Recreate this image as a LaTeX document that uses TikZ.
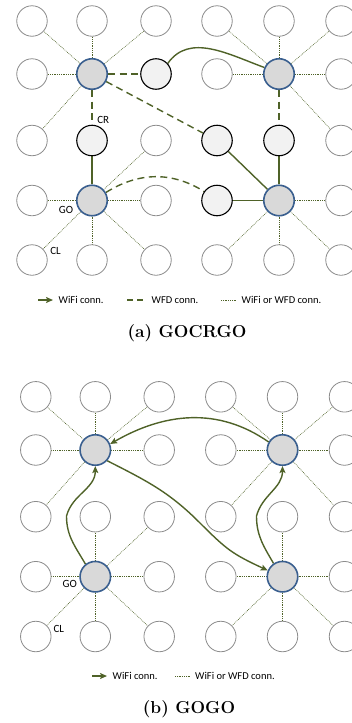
\documentclass[tikz,border=0pt]{standalone}
\usepackage{fontspec}
\newfontfamily\carl{Carlito}
\usetikzlibrary{arrows.meta}
\definecolor{oliv}{HTML}{4F6228}
\definecolor{goblue}{HTML}{3A5F8F}
\definecolor{gofill}{HTML}{D9D9D9}
\definecolor{crfill}{HTML}{F2F2F2}
\definecolor{plaingray}{HTML}{8C8C8C}
\pgfdeclarelayer{bg}
\pgfsetlayers{bg,main}
\tikzset{
  plain/.style={circle,draw=plaingray,fill=white,line width=0.8pt,minimum size=30.5pt,inner sep=0pt},
  gonode/.style={draw=goblue,fill=gofill,line width=1.6pt},
  crnode/.style={draw=black,fill=crfill,line width=1.1pt},
  dotline/.style={draw=oliv,line width=0.6pt,dash pattern=on 0.8pt off 1pt},
  wifi/.style={draw=oliv,line width=1.4pt},
  wfd/.style={draw=oliv,line width=1.4pt,dash pattern=on 7pt off 4.5pt},
  wifiarrow/.style={wifi,-{Stealth[length=7pt,width=6pt,inset=1.5pt]}},
  lbl/.style={font=\carl\fontsize{11}{13}\selectfont,inner sep=0pt},
  legtext/.style={font=\carl\fontsize{10.5}{12}\selectfont,inner sep=0pt,anchor=west},
  captext/.style={font=\rmfamily\bfseries\fontsize{17.3}{20}\selectfont,inner sep=0pt},
  sty a-2-2/.style=gonode, sty a-5-2/.style=gonode, sty a-2-4/.style=gonode, sty a-5-4/.style=gonode,
  sty a-3-2/.style=crnode, sty a-2-3/.style=crnode, sty a-4-3/.style=crnode, sty a-5-3/.style=crnode, sty a-4-4/.style=crnode,
  sty b-2-2/.style=gonode, sty b-5-2/.style=gonode, sty b-2-4/.style=gonode, sty b-5-4/.style=gonode,
}
\begin{document}
\begin{tikzpicture}[x=1pt,y=-1pt]
\useasboundingbox (0,0) rectangle (352,723);
% ---------------- panel (a) nodes
\foreach \c/\x in {1/32,2/92,3/156,4/217,5/279,6/341}{
  \foreach \r/\y in {1/21,2/74,3/140.5,4/200.5,5/260}{
    \node[plain,sty a-\c-\r/.try] (a-\c-\r) at (\x,\y) {};
  }}
% ---------------- panel (b) nodes
\foreach \c/\x in {1/35.8,2/95.3,3/159.2,4/220.8,5/282.5,6/344.5}{
  \foreach \r/\y in {1/396.8,2/450,3/516.7,4/576.7,5/636.5}{
    \node[plain,sty b-\c-\r/.try] (b-\c-\r) at (\x,\y) {};
  }}
\begin{pgfonlayer}{bg}
% dotted links (a)
\foreach \g/\n in {2-2/1-1,2-2/2-1,2-2/3-1,2-2/1-2,2-2/1-3,
                   5-2/4-1,5-2/5-1,5-2/6-1,5-2/4-2,5-2/6-2,5-2/6-3,
                   2-4/3-3,2-4/1-4,2-4/3-4,2-4/1-5,2-4/2-5,2-4/3-5,
                   5-4/6-4,5-4/4-5,5-4/5-5,5-4/6-5}
  \draw[dotline] (a-\g) -- (a-\n);
% dotted links (b)
\foreach \g/\n in {2-2/1-1,2-2/2-1,2-2/3-1,2-2/1-2,2-2/3-2,2-2/1-3,
                   5-2/4-1,5-2/5-1,5-2/6-1,5-2/4-2,5-2/6-2,5-2/4-3,5-2/6-3,
                   2-4/2-3,2-4/3-3,2-4/1-4,2-4/3-4,2-4/1-5,2-4/2-5,2-4/3-5,
                   5-4/5-3,5-4/4-4,5-4/6-4,5-4/4-5,5-4/5-5,5-4/6-5}
  \draw[dotline] (b-\g) -- (b-\n);
% WFD links (a)
\draw[wfd] (a-2-2) -- (a-3-2);
\draw[wfd] (a-2-2) -- (a-2-3);
\draw[wfd] (a-2-2) -- (a-4-3);
\draw[wfd] (a-5-2) -- (a-5-3);
\draw[wfd] (a-2-4.30) to[out=32,in=148] (a-4-4.145);
% WiFi links (a)
\draw[wifi] (a-3-2.42) to[out=55,in=160] (a-5-2.156);
\draw[wifi] (a-2-3) -- (a-2-4);
\draw[wifi] (a-5-3) -- (a-5-4);
\draw[wifi] (a-4-3) -- (a-5-4);
\draw[wifi] (a-4-4) -- (a-5-4);
% WiFi arrows (b)
\draw[wifiarrow] (b-5-2.150) to[out=145,in=30] (b-2-2.22);
\coordinate (m2) at (199,522);
\draw[wifi] (b-2-2.-42) to[out=-27,in=135] (m2);
\draw[wifiarrow] (m2) to[out=-45,in=155,looseness=1.2] (b-5-4.157);
\coordinate (m3) at (66.5,516);
\draw[wifi] (b-2-4.128) to[out=120,in=-90] (m3);
\draw[wifiarrow] (m3) to[out=75,in=-90] (b-2-2.-90);
\coordinate (m4) at (256.5,516);
\draw[wifi] (b-5-4.124) to[out=120,in=-90] (m4);
\draw[wifiarrow] (m4) to[out=75,in=-90] (b-5-2.-90);
\end{pgfonlayer}
% labels
\node[lbl] (cr) at (103.2,119.7) {CR};
\node[lbl] (goa) at (66,209.7) {GO};
\node[lbl] (cla) at (55.5,251) {CL};
\node[lbl] (gob) at (69.7,583.7) {GO};
\node[lbl] (clb) at (58.8,628.7) {CL};
% legend (a)
\coordinate (la1) at (38,300); \coordinate (la2) at (53,300);
\draw[wifiarrow] (la1) -- (la2);
\node[legtext] (lta) at (58.5,300) {WiFi conn.};
\coordinate (la3) at (127,300); \coordinate (la4) at (146,300);
\draw[wfd,dash pattern=on 6pt off 4pt] (la3) -- (la4);
\node[legtext] (ltb) at (151.5,300) {WFD conn.};
\coordinate (la5) at (221,300); \coordinate (la6) at (236,300);
\draw[dotline] (la5) -- (la6);
\node[legtext] (ltc) at (241.5,300) {WiFi or WFD conn.};
\node[captext] (capa) at (187,333) {(a) GOCRGO};
% legend (b)
\coordinate (lb1) at (92,676); \coordinate (lb2) at (107,676);
\draw[wifiarrow] (lb1) -- (lb2);
\node[legtext] (ltd) at (112.5,676) {WiFi conn.};
\coordinate (lb3) at (175,676); \coordinate (lb4) at (190,676);
\draw[dotline] (lb3) -- (lb4);
\node[legtext] (lte) at (195,676) {WiFi or WFD conn.};
\node[captext] (capb) at (189,709.5) {(b) GOGO};
\end{tikzpicture}
\end{document}
